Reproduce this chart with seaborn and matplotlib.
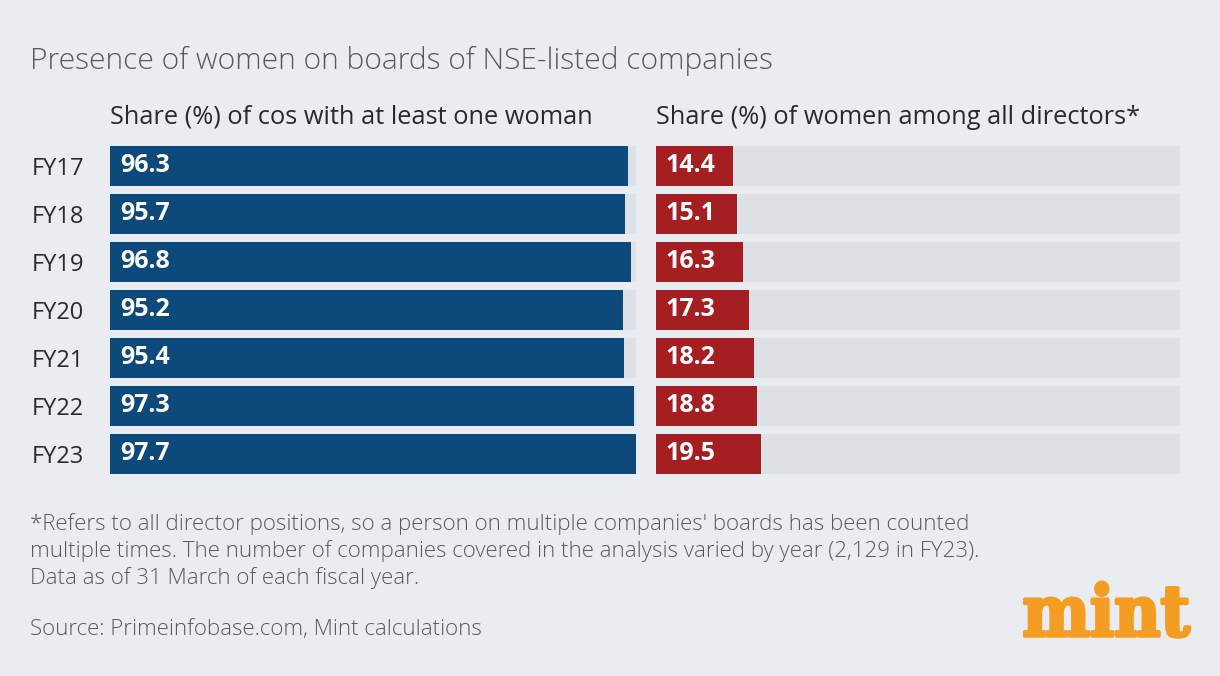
import numpy as np
import pandas as pd
import matplotlib
matplotlib.use("Agg")
import matplotlib.pyplot as plt
import matplotlib.patheffects as pe
import seaborn as sns

# data
years = ["FY17", "FY18", "FY19", "FY20", "FY21", "FY22", "FY23"]
share_cos = [96.3, 95.7, 96.8, 95.2, 95.4, 97.3, 97.7]
share_directors = [14.4, 15.1, 16.3, 17.3, 18.2, 18.8, 19.5]

title = "Presence of women on boards of NSE-listed companies"
left_title = "Share (%) of cos with at least one woman"
right_title = "Share (%) of women among all directors*"
note = ("*Refers to all director positions, so a person on multiple companies' boards has been counted\n"
        "multiple times. The number of companies covered in the analysis varied by year (2,129 in FY23).\n"
        "Data as of 31 March of each fiscal year.")
source = "Source: Primeinfobase.com, Mint calculations"

BG = "#e9ecf1"
TRACK = "#dde0e5"
BLUE = "#0d4a7b"
RED = "#a41e22"
ORANGE = "#f59c22"
GREY_TXT = "#5a5a5a"

sns.set_theme(style="white")
plt.rcParams["font.family"] = ["Open Sans", "DejaVu Sans"]

df = pd.DataFrame({"year": years, "cos": share_cos, "dirs": share_directors})
xmax = max(share_cos)
df["track"] = xmax

fig = plt.figure(figsize=(12.2, 6.76), dpi=100, facecolor=BG)
ax1 = fig.add_axes([110 / 1220, 1 - 478 / 676, 526 / 1220, 336 / 676])
ax2 = fig.add_axes([656 / 1220, 1 - 478 / 676, 524 / 1220, 336 / 676])

for ax, col, color in [(ax1, "cos", BLUE), (ax2, "dirs", RED)]:
    ax.set_facecolor(BG)
    sns.barplot(data=df, x="track", y="year", orient="h", color=TRACK,
                saturation=1, width=0.83, linewidth=0, ax=ax)
    sns.barplot(data=df, x=col, y="year", orient="h", color=color,
                saturation=1, width=0.83, linewidth=0, ax=ax)
    ax.set_xlim(0, xmax)
    ax.set_ylim(6.5, -0.5)
    ax.set_xlabel("")
    ax.set_ylabel("")
    ax.set_xticks([])
    for s in ax.spines.values():
        s.set_visible(False)
    for i, v in enumerate(df[col]):
        ax.text(1.85, i, f"{v:.1f}", color="white", fontsize=18, fontweight="bold",
                va="center", ha="left")

ax1.tick_params(axis="y", length=0, pad=0, labelsize=17, labelcolor="#2a2a2a")
for lab in ax1.get_yticklabels():
    lab.set_horizontalalignment("left")
    lab.set_x(-78 / 526)
ax2.set_yticks([])

fig.text(30 / 1220, 1 - 61 / 676, title, fontsize=21.6, color=GREY_TXT,
         fontweight="light", va="center", ha="left")
fig.text(110 / 1220, 1 - 117 / 676, left_title, fontsize=18.3, color="#2a2a2a",
         va="center", ha="left")
fig.text(656 / 1220, 1 - 117 / 676, right_title, fontsize=18.3, color="#2a2a2a",
         va="center", ha="left")
fig.text(30 / 1220, 1 - 513 / 676, note, fontsize=16, color=GREY_TXT,
         va="top", ha="left", linespacing=1.3, fontweight="light")
fig.text(30 / 1220, 1 - 630 / 676, source, fontsize=16, color=GREY_TXT,
         va="center", ha="left", fontweight="light")
fig.text(1190 / 1220, 1 - 636 / 676, "mint", fontsize=51, color=ORANGE,
         fontweight="bold", family=["DejaVu Serif"], fontstretch="condensed",
         va="baseline", ha="right",
         path_effects=[pe.withStroke(linewidth=2.5, foreground=ORANGE)])

fig.savefig("out.png", dpi=100, facecolor=BG)
